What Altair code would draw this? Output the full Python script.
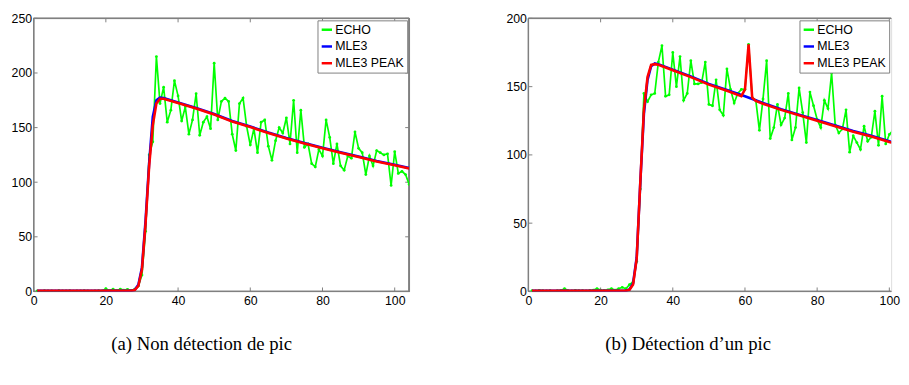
import altair as alt
import pandas as pd

SERIES = ["ECHO", "MLE3", "MLE3 PEAK"]
COLORS = ["#00ff00", "#0000ff", "#ff0000"]
XTICKS = [0, 20, 40, 60, 80, 100]

X = list(range(1, 105))

# ---- panel (a) ----
A_ECHO = [0.5, 0.3, 0.6, 0.4, 0.5, 0.2, 0.7, 0.4, 0.5, 0.6, 0.3, 0.5, 0.4, 0.6, 0.5, 0.3, 0.5, 0.6, 0.4,
          2.5, 0.8, 2.0, 0.9, 2.0, 1.2, 1.8, 1.0, 2.0, 5, 15, 55, 125, 137, 215, 172, 187, 155, 166, 193, 179,
          156, 169, 144, 157, 181, 143, 155, 160, 149, 209, 157, 174, 177, 174, 144, 129, 172, 177, 151, 134,
          149, 127, 155, 157, 133, 120, 138, 150, 145, 159, 135, 175, 127, 166, 132, 135, 117, 114, 130, 124,
          157, 141, 117, 135, 115, 111, 124, 122, 146, 131, 127, 107, 124, 115, 129, 127, 125, 126, 97, 128,
          108, 110, 107, 98]
A_MLE_X = [1, 27, 28, 29, 30, 31, 32, 33, 34, 35, 36, 40, 45, 50, 55, 60, 65, 70, 75, 80, 85, 90, 95, 100, 104]
A_MLE = [0.5, 0.5, 1.5, 6, 22, 65, 118, 160, 175, 177.5, 177, 173, 168, 162.5, 156, 151, 145.5, 140.5, 136,
         131.5, 127.5, 123.5, 119.5, 116, 113]
A_PEAK_X = A_MLE_X
A_PEAK = [0.5, 0.5, 1.2, 5, 20, 62, 115, 152, 172, 176.5, 176.5, 172.5, 167.5, 162, 155.5, 150.5, 145, 140,
          135.5, 131, 127, 123, 119, 115.5, 112.5]
A_YTICKS = [0, 50, 100, 150, 200, 250]

# ---- panel (b) ----
B_ECHO = [0.5, 0.3, 0.8, 0.5, 0.4, 0.6, -1.0, 0.5, 0.7, 2.0, 0.6, 0.4, 0.8, 0.5, 0.6, 0.4, 0.7, 1.0, 2.0,
          1.0, 0.8, 1.2, 2.0, 1.0, 2.0, 3.0, 2.0, 5, 7, 22, 75, 145, 139, 144, 145, 168, 180, 143, 144, 175,
          150, 172, 140, 145, 169, 152, 152, 153, 168, 137, 136, 155, 133, 129, 163, 148, 138, 145, 148, 148,
          181, 142, 140, 118, 141, 169, 112, 120, 137, 122, 127, 145, 111, 120, 149, 131, 109, 146, 136, 126,
          120, 140, 134, 160, 122, 116, 119, 133, 102, 114, 109, 104, 121, 110, 113, 132, 107, 143, 108, 115,
          118, 125, 118, 110]
B_MLE_X = [1, 27, 28, 29, 30, 31, 32, 33, 34, 35, 36, 40, 45, 50, 55, 60, 65, 70, 75, 80, 85, 90, 95, 100, 104]
B_MLE = [0.5, 0.5, 1.5, 6, 25, 80, 130, 155, 165, 167, 166.5, 162.5, 157.5, 152, 147.5, 143, 138, 133.5,
         129.5, 125.5, 121.5, 117.5, 114, 110, 107]
B_PEAK_X = [1, 27, 28, 29, 30, 31, 32, 33, 34, 35, 36, 40, 45, 50, 55, 59, 60, 61, 62, 63, 65, 70, 75, 80,
            85, 90, 95, 100, 104]
B_PEAK = [0.5, 0.5, 1.2, 5, 24, 80, 133, 157, 166, 166.5, 166, 162, 157, 151.5, 147, 143, 148, 181, 142,
          139.5, 137.5, 133, 129, 125, 121, 117, 113.5, 109.5, 106.5]
B_YTICKS = [0, 50, 100, 150, 200]

H = 277
FRAME = "#808080"
SANS = "Liberation Sans"


def panel(echo, mle_x, mle, peak_x, peak, ymax, yticks, caption, dx, width, xmax, right_edge):
    d_echo = pd.DataFrame({"x": X, "y": echo, "series": "ECHO"})
    d_mle = pd.DataFrame({"x": mle_x, "y": mle, "series": "MLE3"})
    d_peak = pd.DataFrame({"x": peak_x, "y": peak, "series": "MLE3 PEAK"})

    xs = alt.Scale(domain=[0, xmax], nice=False, zero=False)
    ys = alt.Scale(domain=[0, ymax], nice=False)
    xax = alt.Axis(values=XTICKS, ticks=False, domain=False, grid=False, labelPadding=3,
                   labelFont=SANS, labelFontSize=12.5, labelColor="black", title=None,
                   labelFlush=False)
    yax = alt.Axis(values=yticks, ticks=False, domain=False, grid=False, labelPadding=2,
                   labelFont=SANS, labelFontSize=12.5, labelColor="black", title=None)
    color = alt.Color("series:N", scale=alt.Scale(domain=SERIES, range=COLORS), sort=SERIES,
                      legend=alt.Legend(title=None, orient="top-right", offset=2, fillColor="white",
                                        strokeColor=FRAME, padding=3, symbolType="stroke",
                                        symbolStrokeWidth=2.5, symbolSize=110, labelFont=SANS,
                                        labelFontSize=12.5, labelColor="black", rowPadding=4,
                                        labelOffset=2, cornerRadius=0))
    enc = dict(x=alt.X("x:Q", scale=xs, axis=xax), y=alt.Y("y:Q", scale=ys, axis=yax), color=color)

    l_echo = alt.Chart(d_echo).mark_line(strokeWidth=1.7, clip=True,
                                         point=alt.OverlayMarkDef(filled=True, size=8, clip=True)).encode(**enc)
    l_mle = alt.Chart(d_mle).mark_line(strokeWidth=2.6, clip=True).encode(**enc)
    l_peak = alt.Chart(d_peak).mark_line(strokeWidth=2.6, clip=True).encode(**enc)

    dxt = pd.DataFrame({"x": XTICKS})
    dyt = pd.DataFrame({"y": yticks})
    xb = alt.Chart(dxt).mark_rule(color=FRAME).encode(x=alt.X("x:Q", scale=xs, axis=xax),
                                                       y=alt.value(H), y2=alt.value(H - 4))
    xt = alt.Chart(dxt).mark_rule(color=FRAME).encode(x=alt.X("x:Q", scale=xs, axis=xax),
                                                       y=alt.value(0), y2=alt.value(4))
    yl = alt.Chart(dyt).mark_rule(color=FRAME).encode(y=alt.Y("y:Q", scale=ys, axis=yax),
                                                       x=alt.value(0), x2=alt.value(4))
    layers = [xb, xt, yl]
    frame_top = alt.Chart(dxt).mark_rule(color=FRAME).encode(x=alt.value(0), x2=alt.value(width), y=alt.value(0))
    frame_bot = alt.Chart(dxt).mark_rule(color=FRAME).encode(x=alt.value(0), x2=alt.value(width), y=alt.value(H))
    frame_left = alt.Chart(dxt).mark_rule(color=FRAME).encode(x=alt.value(0), y=alt.value(0), y2=alt.value(H))
    layers += [frame_top, frame_bot, frame_left]
    if right_edge:
        yr = alt.Chart(dyt).mark_rule(color=FRAME).encode(y=alt.Y("y:Q", scale=ys, axis=yax),
                                                           x=alt.value(width - 4), x2=alt.value(width))
        frame_right = alt.Chart(dxt).mark_rule(color=FRAME).encode(x=alt.value(width), y=alt.value(0), y2=alt.value(H))
        layers += [yr, frame_right]
    layers += [l_echo, l_mle, l_peak]

    return alt.layer(*layers).properties(
        width=width, height=H,
        title=alt.TitleParams(text=caption, orient="bottom", anchor="middle", font="Liberation Serif",
                              fontSize=19, fontWeight="normal", color="black", offset=29, dx=dx),
    )


left = panel(A_ECHO, A_MLE_X, A_MLE, A_PEAK_X, A_PEAK, 250, A_YTICKS,
             "(a) Non détection de pic", -20, 381, 104, True)
right = panel(B_ECHO, B_MLE_X, B_MLE, B_PEAK_X, B_PEAK, 200, B_YTICKS,
              "(b) Détection d\u2019un pic", -22, 368, 100.5, False)

chart = alt.hconcat(left, right, spacing=96).resolve_legend(color="independent").resolve_scale(
    x="independent", y="independent"
).properties(
    padding={"left": 2, "top": 1, "right": 0, "bottom": 0}
).configure_view(stroke=None).configure(background="white")

chart.save("out.html", embed_options={"renderer": "svg", "actions": False})
